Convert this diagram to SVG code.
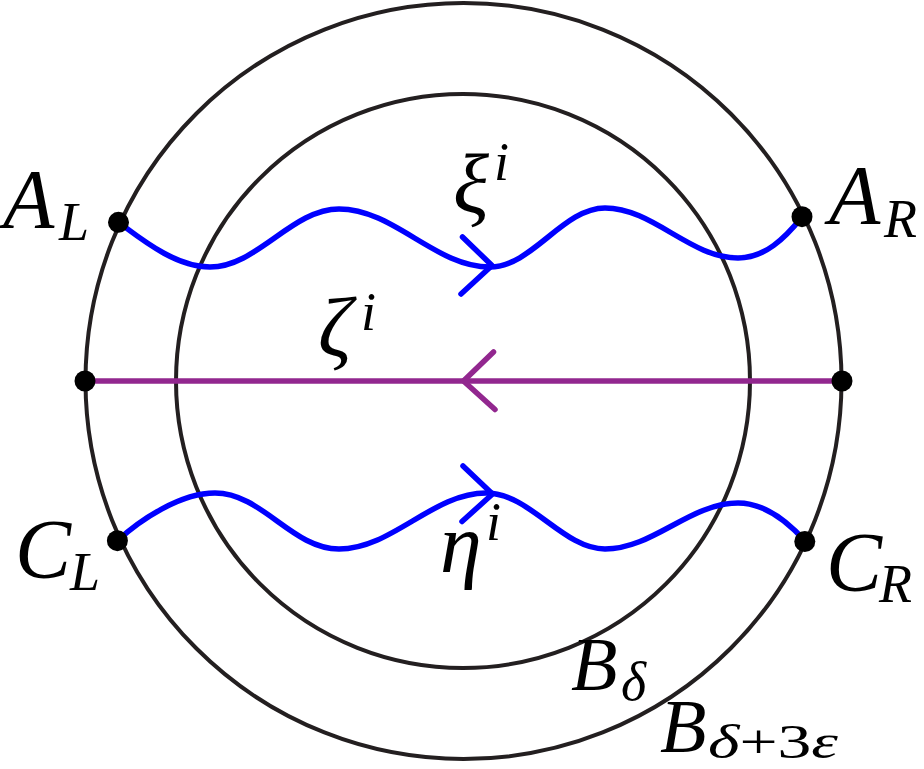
<svg xmlns="http://www.w3.org/2000/svg" width="924" height="769" viewBox="0 0 924 769">
<style>
.ball{fill:none;stroke:#231f20;stroke-width:4}
.dot{fill:#000}
.blue{fill:none;stroke:#0000ff;stroke-width:5.5;stroke-linecap:round;stroke-linejoin:round}
.purple{fill:none;stroke:#92278f;stroke-width:5.5;stroke-linecap:round;stroke-linejoin:round}
text{font-family:'Liberation Serif','Times New Roman',serif;font-style:italic;fill:#000}
.big{font-size:84px}
.mid{font-size:76px}
.small{font-size:54px}
.sub2{font-size:49px}
.up{font-style:normal}
</style>
<rect width="924" height="769" fill="#fff"/>
<g id="ball-outer">
<circle class="ball" cx="463.5" cy="381" r="378"/>
<text class="mid" x="660" y="752">B</text>
<text class="sub2" x="708" y="758" textLength="130" lengthAdjust="spacingAndGlyphs">δ<tspan class="up">+3</tspan>ε</text>
</g>
<g id="ball-inner">
<circle class="ball" cx="463" cy="381" r="287"/>
<text class="mid" x="571" y="690">B</text>
<text class="small" x="621" y="700">δ</text>
</g>
<g id="connectors">
<path id="xi" class="blue" d="M118.5,222.3 C140,238 175,267 210,267 C257,267 292,209 339,209 C394,209 435,267 490,267 C532,267 563,208 605,208 C653,208 690,258 738,258 C765,258 785,238 802,217"/>
<path class="blue" d="M462.5,237 L492,265.5 L461,294"/>
<path id="eta" class="blue" d="M117.4,540.7 C140,520 180,493 215,493 C262,493 292,549 339,549 C392,549 433,493 486,493 C530,493 563,549 605,549 C653,549 690,503 738,503 C765,503 788,522 804.8,540.7"/>
<path class="blue" d="M463,466 L492.5,494 L462,521.5"/>
<path id="zeta" class="purple" d="M842,381 L84,381"/>
<path class="purple" d="M493.5,352 L463.5,381 L495,409.5"/>
<text class="big" x="453" y="212">ξ</text>
<text class="small" x="494" y="180">i</text>
<text class="big" x="318" y="356">ζ</text>
<text class="small" x="361" y="330">i</text>
<text class="big" x="440" y="572">η</text>
<text class="small" x="486" y="540">i</text>
</g>
<g id="node-AL">
<circle class="dot" cx="118.5" cy="222.3" r="10.5"/>
<text class="big" x="3" y="228">A</text>
<text class="small" x="59" y="240">L</text>
</g>
<g id="node-AR">
<circle class="dot" cx="802" cy="216.7" r="10.5"/>
<text class="big" x="829" y="224">A</text>
<text class="small" x="884" y="237">R</text>
</g>
<g id="node-ZL">
<circle class="dot" cx="85" cy="381" r="10.5"/>
</g>
<g id="node-ZR">
<circle class="dot" cx="842" cy="381" r="10.5"/>
</g>
<g id="node-CL">
<circle class="dot" cx="117.4" cy="540.7" r="10.5"/>
<text class="big" x="15" y="578">C</text>
<text class="small" x="70" y="590">L</text>
</g>
<g id="node-CR">
<circle class="dot" cx="804.8" cy="541.5" r="10.5"/>
<text class="big" x="826" y="591">C</text>
<text class="small" x="879" y="602">R</text>
</g>
</svg>
